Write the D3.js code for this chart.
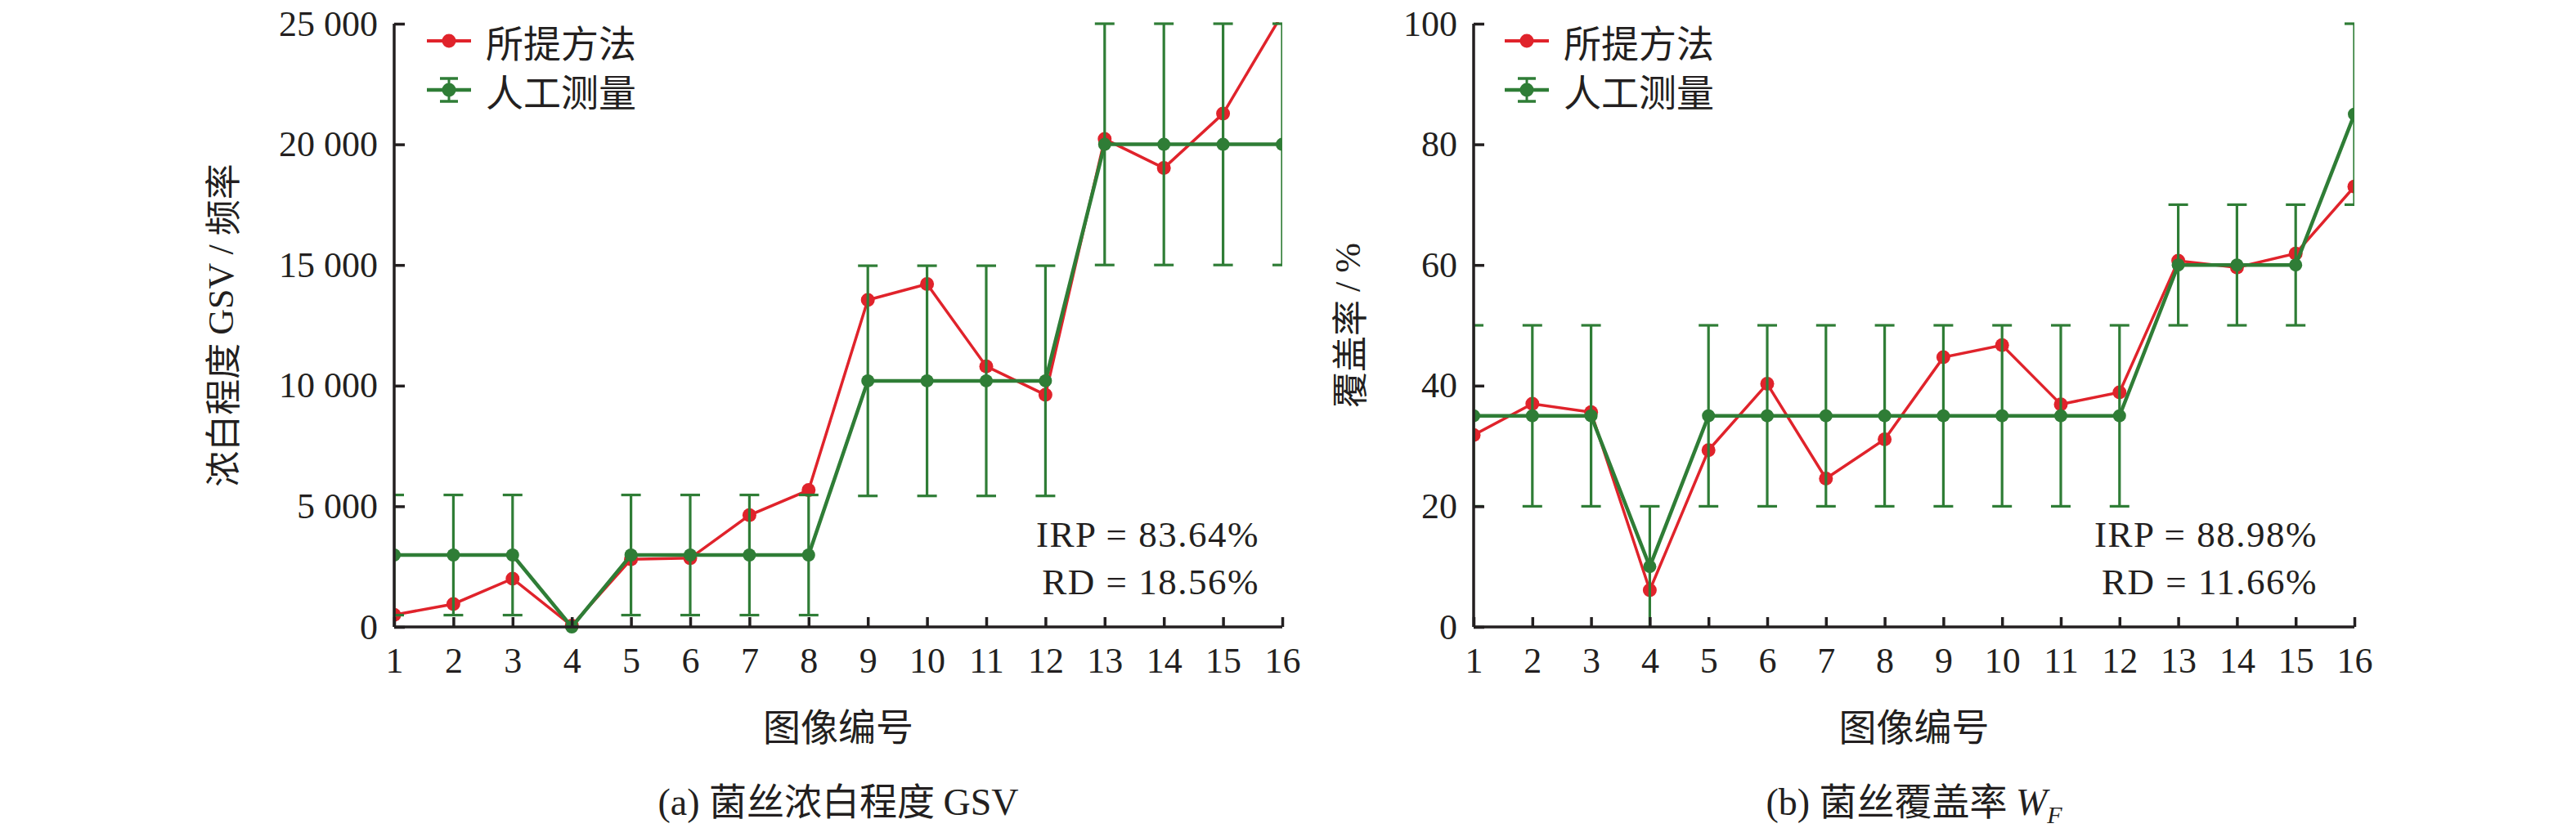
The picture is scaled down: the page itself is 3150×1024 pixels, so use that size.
<!DOCTYPE html>
<html>
<head>
<meta charset="utf-8">
<script src="https://cdn.jsdelivr.net/npm/d3@7/dist/d3.min.js"></script>
<style>
  html, body { margin: 0; padding: 0; background: #fff; }
  svg { display: block; }
  .num { font-family: "Liberation Serif", "Times New Roman", serif; }
  .cjk { font-family: "Noto Sans CJK SC", sans-serif; }
</style>
</head>
<body>
<svg id="chart" width="3150" height="1024"></svg>
<script>
// ---------------- data ----------------
const imageIds = [1, 2, 3, 4, 5, 6, 7, 8, 9, 10, 11, 12, 13, 14, 15, 16];

// (a) GSV
const gsvMethod    = [500, 950, 2000, 50, 2800, 2850, 4630, 5670, 13550, 14210, 10800, 9620, 20220, 19020, 21270, 25400];
const gsvManual    = [2980, 2980, 2980, 0, 2980, 2980, 2980, 2980, 10200, 10200, 10200, 10200, 20000, 20000, 20000, 20000];
const gsvManualErr = [2490, 2490, 2490, 0, 2490, 2490, 2490, 2490, 4770, 4770, 4770, 4770, 5000, 5000, 5000, 5000];
const gsvTicks     = [0, 5000, 10000, 15000, 20000, 25000];

// (b) W_F
const wfMethod    = [31.8, 37.0, 35.6, 6.1, 29.3, 40.3, 24.6, 31.1, 44.7, 46.7, 36.9, 38.9, 60.7, 59.6, 61.9, 73.0];
const wfManual    = [35, 35, 35, 10, 35, 35, 35, 35, 35, 35, 35, 35, 60, 60, 60, 85];
const wfManualErr = [15, 15, 15, 10, 15, 15, 15, 15, 15, 15, 15, 15, 10, 10, 10, 15];
const wfTicks     = [0, 20, 40, 60, 80, 100];

const legendLabels = ["所提方法", "人工测量"];

// ---------------- style ----------------
const RED = "#e0232b";
const GREEN = "#2f7d36";
const AXIS = "#231f20";
const svg = d3.select("#chart");

function fmtThousands(d) {
  return d3.format(",")(d).replace(/,/g, "\u00a0");
}

function panel(cfg) {
  const x = d3.scaleLinear().domain([1, 16]).range([cfg.x0, cfg.x1]);
  const y = d3.scaleLinear().domain([0, cfg.ymax]).range([767, 29]);
  const g = svg.append("g");

  const clipId = "clip" + cfg.id;
  svg.append("defs").append("clipPath").attr("id", clipId)
    .append("rect").attr("x", cfg.x0).attr("y", 27).attr("width", cfg.x1 - cfg.x0).attr("height", 770 - 27 + 12);

  const data = imageIds.map((id, i) => ({
    id, m: cfg.method[i], v: cfg.manual[i], e: cfg.err[i]
  }));

  const plot = g.append("g").attr("clip-path", `url(#${clipId})`);

  // red series (below green)
  plot.append("path").datum(data)
    .attr("fill", "none").attr("stroke", RED).attr("stroke-width", 3.5)
    .attr("d", d3.line().x(d => x(d.id)).y(d => y(d.m)));
  plot.selectAll(".rdot").data(data).enter().append("circle")
    .attr("cx", d => x(d.id)).attr("cy", d => y(d.m)).attr("r", 8.5).attr("fill", RED);

  // error bars
  const eb = plot.append("g").attr("stroke", GREEN).attr("stroke-width", 3.2);
  data.filter(d => d.e > 0).forEach(d => {
    eb.append("line").attr("x1", x(d.id)).attr("x2", x(d.id)).attr("y1", y(d.v - d.e)).attr("y2", y(d.v + d.e));
    [d.v - d.e, d.v + d.e].forEach(v => {
      if (v <= 0) return;
      eb.append("line").attr("x1", x(d.id) - 12).attr("x2", x(d.id) + 12).attr("y1", y(v)).attr("y2", y(v));
    });
  });

  // green series
  plot.append("path").datum(data)
    .attr("fill", "none").attr("stroke", GREEN).attr("stroke-width", 4.5)
    .attr("d", d3.line().x(d => x(d.id)).y(d => y(d.v)));
  plot.selectAll(".gdot").data(data).enter().append("circle")
    .attr("cx", d => x(d.id)).attr("cy", d => y(d.v)).attr("r", 8).attr("fill", GREEN);

  // axes
  const yAxis = d3.axisLeft(y).tickValues(cfg.ticks).tickSizeInner(-13).tickSizeOuter(0).tickPadding(20)
    .tickFormat(cfg.fmt);
  const ya = g.append("g").attr("transform", `translate(${cfg.x0},0)`).call(yAxis);
  const xAxis = d3.axisBottom(x).tickValues(imageIds).tickSizeInner(-12).tickSizeOuter(0).tickPadding(25)
    .tickFormat(d3.format("d"));
  const xa = g.append("g").attr("transform", `translate(0,767)`).call(xAxis);
  [ya, xa].forEach(a => {
    a.select(".domain").attr("stroke", AXIS).attr("stroke-width", 3.5);
    a.selectAll(".tick line").attr("stroke", AXIS).attr("stroke-width", 3.5);
    a.selectAll(".tick text").attr("class", "num").attr("font-size", 44).attr("fill", AXIS);
  });
  ya.select(".domain").attr("d", `M0,29V767`);
  xa.select(".domain").attr("d", `M${cfg.x0},0H${cfg.x1}`);

  // y title
  g.append("text").attr("transform", `translate(${cfg.yTitleX},398) rotate(-90)`)
    .attr("text-anchor", "middle").attr("dominant-baseline", "central")
    .attr("font-size", 44).attr("fill", AXIS).attr("class", "cjk")
    .call(t => cfg.yTitle(t));

  // x title
  const cx = (cfg.x0 + cfg.x1) / 2;
  g.append("text").attr("x", cx).attr("y", 906).attr("text-anchor", "middle")
    .attr("class", "cjk").attr("font-size", 46).attr("fill", AXIS).text("图像编号");

  // caption
  g.append("text").attr("x", cx).attr("y", 997).attr("text-anchor", "middle")
    .attr("font-size", 46).attr("fill", AXIS).call(t => cfg.caption(t));

  // stats text
  cfg.stats.forEach((s, i) => {
    g.append("text").attr("x", cfg.statsX).attr("y", 669 + i * 58).attr("text-anchor", "end")
      .attr("class", "num").attr("font-size", 45).attr("letter-spacing", 1.5).attr("fill", AXIS).text(s);
  });

  // legend
  const lx = cfg.legendX;
  const lg = g.append("g");
  [0, 1].forEach(i => {
    const ly = 50 + i * 60;
    const col = i === 0 ? RED : GREEN;
    lg.append("line").attr("x1", lx).attr("x2", lx + 54).attr("y1", ly).attr("y2", ly)
      .attr("stroke", col).attr("stroke-width", i === 0 ? 4 : 4.5);
    if (i === 1) {
      lg.append("line").attr("x1", lx + 27).attr("x2", lx + 27).attr("y1", ly - 14).attr("y2", ly + 14).attr("stroke", col).attr("stroke-width", 3);
      [ly - 14, ly + 14].forEach(yy => lg.append("line").attr("x1", lx + 16).attr("x2", lx + 38).attr("y1", yy).attr("y2", yy).attr("stroke", col).attr("stroke-width", 3.5));
    }
    lg.append("circle").attr("cx", lx + 27).attr("cy", ly).attr("r", 8.5).attr("fill", col);
    lg.append("text").attr("x", lx + 72).attr("y", ly).attr("dominant-baseline", "central")
      .attr("class", "cjk").attr("font-size", 46).attr("fill", AXIS).text(legendLabels[i]);
  });
}

panel({
  id: "a", x0: 482, x1: 1568, ymax: 25000, ticks: gsvTicks, fmt: fmtThousands,
  method: gsvMethod, manual: gsvManual, err: gsvManualErr,
  yTitleX: 270,
  yTitle: t => {
    t.append("tspan").attr("class", "cjk").text("浓白程度 ");
    t.append("tspan").attr("class", "num").text("GSV / ");
    t.append("tspan").attr("class", "cjk").text("频率");
  },
  caption: t => {
    t.append("tspan").attr("class", "num").text("(a) ");
    t.append("tspan").attr("class", "cjk").text("菌丝浓白程度 ");
    t.append("tspan").attr("class", "num").text("GSV");
  },
  statsX: 1540, stats: ["IRP = 83.64%", "RD = 18.56%"],
  legendX: 522
});

panel({
  id: "b", x0: 1802, x1: 2879, ymax: 100, ticks: wfTicks, fmt: d3.format("d"),
  method: wfMethod, manual: wfManual, err: wfManualErr,
  yTitleX: 1648,
  yTitle: t => {
    t.append("tspan").attr("class", "cjk").text("覆盖率 ");
    t.append("tspan").attr("class", "num").text("/ %");
  },
  caption: t => {
    t.append("tspan").attr("class", "num").text("(b) ");
    t.append("tspan").attr("class", "cjk").text("菌丝覆盖率 ");
    t.append("tspan").attr("class", "num").attr("font-style", "italic").text("W");
    t.append("tspan").attr("class", "num").attr("font-style", "italic").attr("font-size", 30).attr("dy", 10).text("F");
  },
  statsX: 2834, stats: ["IRP = 88.98%", "RD = 11.66%"],
  legendX: 1840
});
</script>
</body>
</html>
